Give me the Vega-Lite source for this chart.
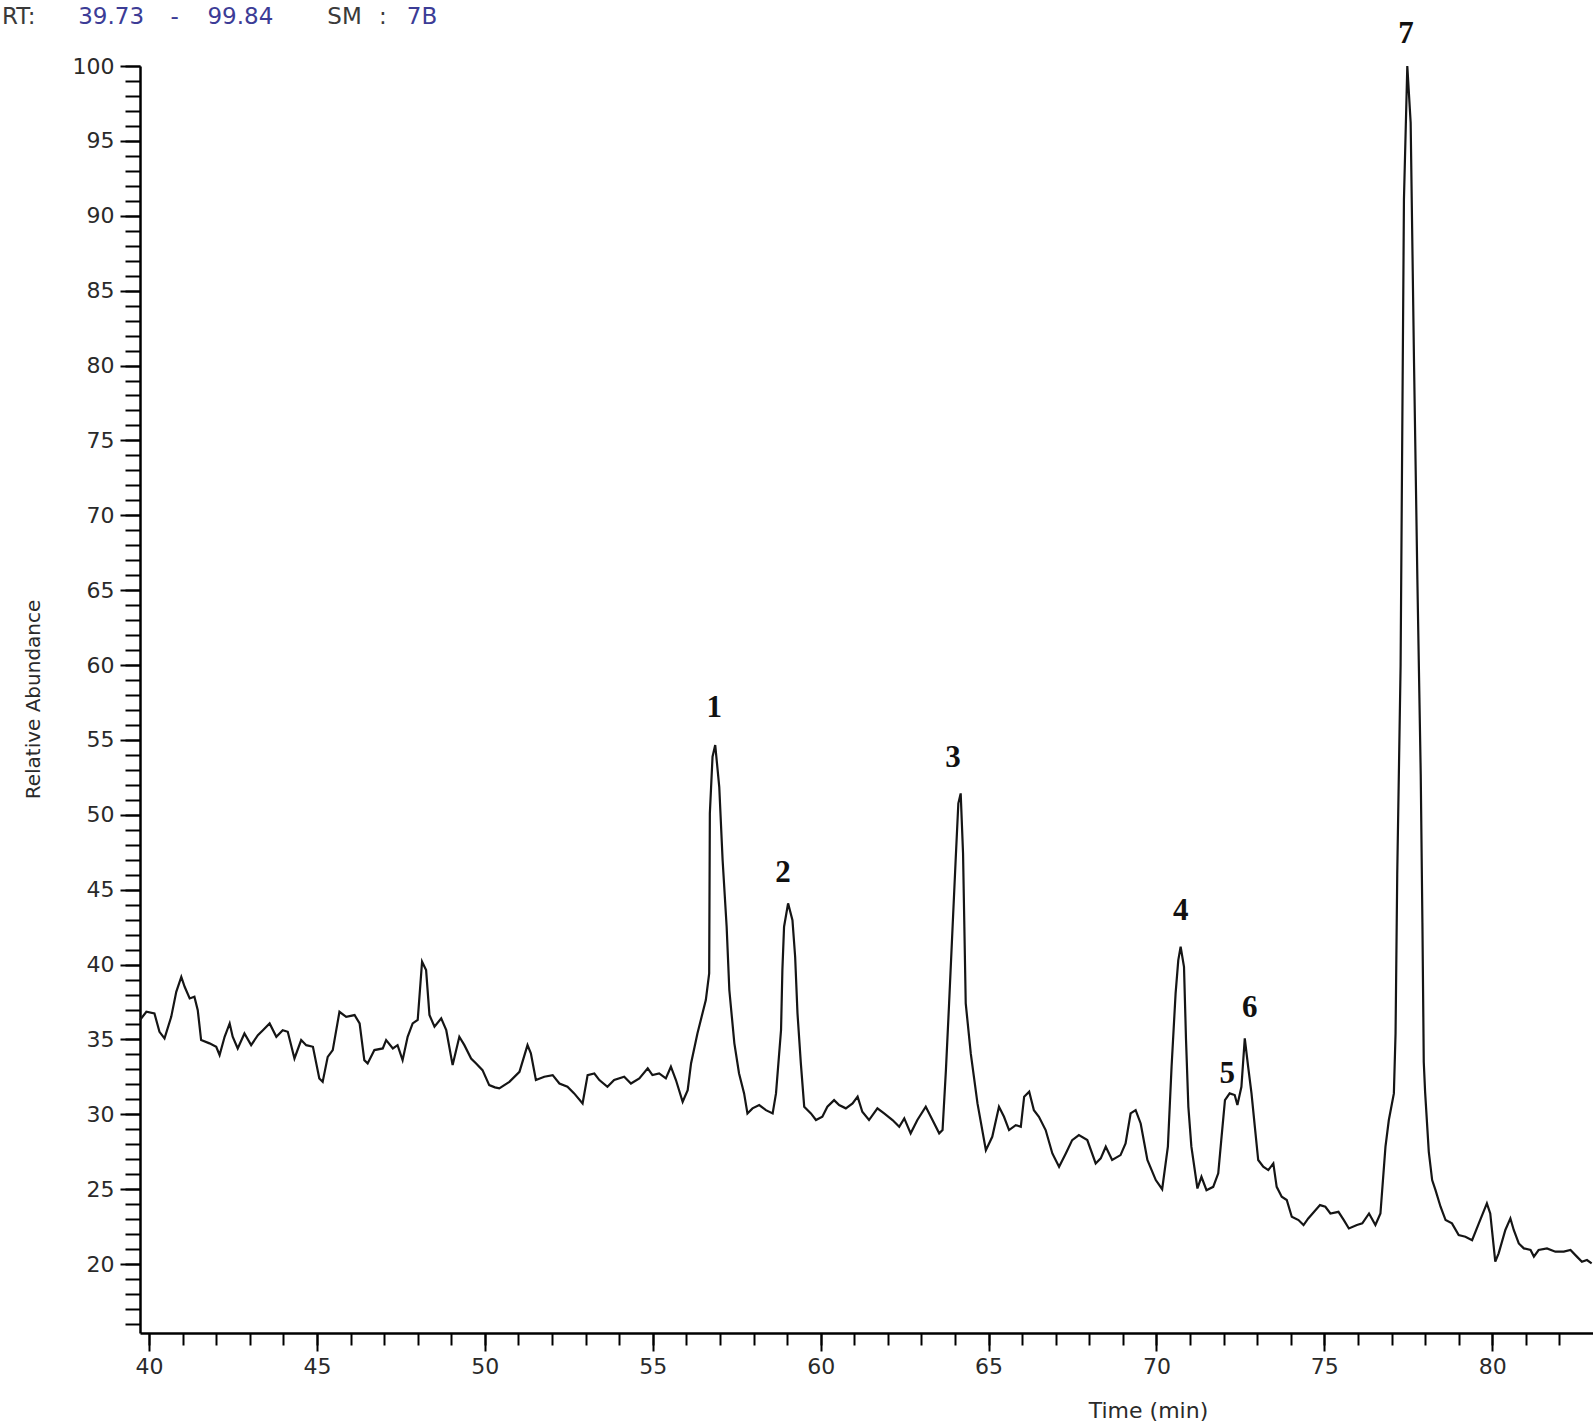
{
  "$schema": "https://vega.github.io/schema/vega-lite/v6.json",
  "autosize": {"type": "none"},
  "padding": {"left": 140, "top": 66, "right": 0, "bottom": 91},
  "width": 1453,
  "height": 1267,
  "background": "white",
  "config": {"view": {"stroke": null}},
  "datasets": {
    "trace": [
      {"t": 39.73, "a": 36.3}, {"t": 39.92, "a": 36.85}, {"t": 40.16, "a": 36.74}, {"t": 40.31, "a": 35.51}, {"t": 40.46, "a": 35.07},
      {"t": 40.66, "a": 36.51}, {"t": 40.81, "a": 38.18}, {"t": 40.96, "a": 39.18}, {"t": 41.06, "a": 38.52}, {"t": 41.21, "a": 37.74},
      {"t": 41.35, "a": 37.85}, {"t": 41.45, "a": 36.96}, {"t": 41.55, "a": 34.96}, {"t": 41.8, "a": 34.74}, {"t": 42.0, "a": 34.51},
      {"t": 42.1, "a": 33.96}, {"t": 42.25, "a": 35.18}, {"t": 42.4, "a": 36.07}, {"t": 42.49, "a": 35.18}, {"t": 42.64, "a": 34.4},
      {"t": 42.84, "a": 35.4}, {"t": 43.04, "a": 34.62}, {"t": 43.24, "a": 35.29}, {"t": 43.39, "a": 35.62}, {"t": 43.59, "a": 36.07},
      {"t": 43.79, "a": 35.18}, {"t": 43.98, "a": 35.62}, {"t": 44.13, "a": 35.51}, {"t": 44.33, "a": 33.73}, {"t": 44.53, "a": 34.96},
      {"t": 44.68, "a": 34.62}, {"t": 44.88, "a": 34.51}, {"t": 45.07, "a": 32.4}, {"t": 45.17, "a": 32.17}, {"t": 45.32, "a": 33.84},
      {"t": 45.47, "a": 34.29}, {"t": 45.67, "a": 36.85}, {"t": 45.87, "a": 36.51}, {"t": 46.12, "a": 36.63}, {"t": 46.27, "a": 36.07},
      {"t": 46.41, "a": 33.62}, {"t": 46.51, "a": 33.4}, {"t": 46.71, "a": 34.29}, {"t": 46.96, "a": 34.4}, {"t": 47.06, "a": 34.96},
      {"t": 47.26, "a": 34.4}, {"t": 47.4, "a": 34.62}, {"t": 47.55, "a": 33.62}, {"t": 47.7, "a": 35.18}, {"t": 47.85, "a": 36.07},
      {"t": 48.0, "a": 36.3}, {"t": 48.13, "a": 40.19}, {"t": 48.25, "a": 39.63}, {"t": 48.35, "a": 36.63}, {"t": 48.5, "a": 35.85},
      {"t": 48.7, "a": 36.41}, {"t": 48.85, "a": 35.62}, {"t": 49.04, "a": 33.29}, {"t": 49.24, "a": 35.18}, {"t": 49.39, "a": 34.62},
      {"t": 49.59, "a": 33.73}, {"t": 49.74, "a": 33.4}, {"t": 49.93, "a": 32.95}, {"t": 50.13, "a": 31.95}, {"t": 50.3, "a": 31.8},
      {"t": 50.43, "a": 31.73}, {"t": 50.73, "a": 32.17}, {"t": 51.03, "a": 32.84}, {"t": 51.27, "a": 34.62}, {"t": 51.37, "a": 34.07},
      {"t": 51.52, "a": 32.29}, {"t": 51.77, "a": 32.51}, {"t": 52.02, "a": 32.62}, {"t": 52.22, "a": 32.06}, {"t": 52.46, "a": 31.84},
      {"t": 52.66, "a": 31.4}, {"t": 52.91, "a": 30.73}, {"t": 53.06, "a": 32.62}, {"t": 53.26, "a": 32.73}, {"t": 53.41, "a": 32.29},
      {"t": 53.65, "a": 31.84}, {"t": 53.85, "a": 32.29}, {"t": 54.15, "a": 32.51}, {"t": 54.35, "a": 32.06}, {"t": 54.6, "a": 32.4},
      {"t": 54.85, "a": 33.07}, {"t": 54.99, "a": 32.62}, {"t": 55.19, "a": 32.73}, {"t": 55.39, "a": 32.4}, {"t": 55.54, "a": 33.18},
      {"t": 55.69, "a": 32.29}, {"t": 55.89, "a": 30.84}, {"t": 56.04, "a": 31.62}, {"t": 56.14, "a": 33.4}, {"t": 56.33, "a": 35.4},
      {"t": 56.58, "a": 37.63}, {"t": 56.68, "a": 39.41}, {"t": 56.7, "a": 50.1}, {"t": 56.78, "a": 53.88}, {"t": 56.86, "a": 54.66},
      {"t": 56.98, "a": 51.87}, {"t": 57.08, "a": 46.98}, {"t": 57.2, "a": 42.53}, {"t": 57.28, "a": 38.3}, {"t": 57.43, "a": 34.74},
      {"t": 57.57, "a": 32.73}, {"t": 57.72, "a": 31.4}, {"t": 57.82, "a": 30.06}, {"t": 57.97, "a": 30.4}, {"t": 58.17, "a": 30.62},
      {"t": 58.37, "a": 30.28}, {"t": 58.57, "a": 30.06}, {"t": 58.67, "a": 31.4}, {"t": 58.82, "a": 35.63}, {"t": 58.86, "a": 39.63},
      {"t": 58.91, "a": 42.53}, {"t": 59.03, "a": 44.09}, {"t": 59.16, "a": 42.97}, {"t": 59.24, "a": 40.52}, {"t": 59.31, "a": 36.74},
      {"t": 59.41, "a": 33.4}, {"t": 59.51, "a": 30.51}, {"t": 59.71, "a": 30.06}, {"t": 59.86, "a": 29.62}, {"t": 60.05, "a": 29.84},
      {"t": 60.2, "a": 30.51}, {"t": 60.4, "a": 30.95}, {"t": 60.55, "a": 30.62}, {"t": 60.75, "a": 30.4}, {"t": 60.95, "a": 30.73},
      {"t": 61.1, "a": 31.18}, {"t": 61.24, "a": 30.17}, {"t": 61.44, "a": 29.62}, {"t": 61.69, "a": 30.4}, {"t": 61.89, "a": 30.06},
      {"t": 62.14, "a": 29.62}, {"t": 62.34, "a": 29.17}, {"t": 62.49, "a": 29.73}, {"t": 62.68, "a": 28.73}, {"t": 62.88, "a": 29.62},
      {"t": 63.13, "a": 30.51}, {"t": 63.33, "a": 29.62}, {"t": 63.53, "a": 28.73}, {"t": 63.63, "a": 28.95}, {"t": 63.73, "a": 32.95},
      {"t": 63.82, "a": 37.18}, {"t": 63.92, "a": 42.09}, {"t": 64.02, "a": 46.98}, {"t": 64.1, "a": 50.77}, {"t": 64.17, "a": 51.43},
      {"t": 64.24, "a": 47.43}, {"t": 64.32, "a": 37.41}, {"t": 64.47, "a": 34.07}, {"t": 64.67, "a": 30.73}, {"t": 64.92, "a": 27.61},
      {"t": 65.11, "a": 28.5}, {"t": 65.31, "a": 30.51}, {"t": 65.46, "a": 29.84}, {"t": 65.61, "a": 28.95}, {"t": 65.81, "a": 29.28},
      {"t": 65.96, "a": 29.17}, {"t": 66.06, "a": 31.18}, {"t": 66.21, "a": 31.51}, {"t": 66.35, "a": 30.28}, {"t": 66.5, "a": 29.84},
      {"t": 66.7, "a": 28.95}, {"t": 66.9, "a": 27.39}, {"t": 67.1, "a": 26.5}, {"t": 67.3, "a": 27.39}, {"t": 67.49, "a": 28.28},
      {"t": 67.69, "a": 28.61}, {"t": 67.94, "a": 28.28}, {"t": 68.19, "a": 26.72}, {"t": 68.34, "a": 27.06}, {"t": 68.49, "a": 27.84},
      {"t": 68.68, "a": 26.95}, {"t": 68.93, "a": 27.28}, {"t": 69.08, "a": 28.06}, {"t": 69.23, "a": 30.06}, {"t": 69.38, "a": 30.28},
      {"t": 69.53, "a": 29.39}, {"t": 69.73, "a": 26.95}, {"t": 69.98, "a": 25.61}, {"t": 70.17, "a": 25.0}, {"t": 70.34, "a": 27.84},
      {"t": 70.45, "a": 33.18}, {"t": 70.57, "a": 38.08}, {"t": 70.65, "a": 40.3}, {"t": 70.72, "a": 41.19}, {"t": 70.82, "a": 39.85},
      {"t": 70.88, "a": 35.0}, {"t": 70.95, "a": 30.5}, {"t": 71.04, "a": 27.84}, {"t": 71.22, "a": 25.05}, {"t": 71.34, "a": 25.83},
      {"t": 71.49, "a": 24.94}, {"t": 71.69, "a": 25.16}, {"t": 71.84, "a": 26.06}, {"t": 71.93, "a": 28.28}, {"t": 72.04, "a": 30.95},
      {"t": 72.18, "a": 31.4}, {"t": 72.33, "a": 31.29}, {"t": 72.41, "a": 30.62}, {"t": 72.53, "a": 31.84}, {"t": 72.63, "a": 35.07},
      {"t": 72.73, "a": 33.18}, {"t": 72.83, "a": 31.4}, {"t": 72.93, "a": 29.17}, {"t": 73.03, "a": 26.95}, {"t": 73.18, "a": 26.5},
      {"t": 73.33, "a": 26.28}, {"t": 73.48, "a": 26.72}, {"t": 73.58, "a": 25.16}, {"t": 73.73, "a": 24.5}, {"t": 73.88, "a": 24.28},
      {"t": 74.03, "a": 23.16}, {"t": 74.23, "a": 22.94}, {"t": 74.38, "a": 22.61}, {"t": 74.52, "a": 23.05}, {"t": 74.87, "a": 23.94},
      {"t": 75.03, "a": 23.83}, {"t": 75.18, "a": 23.38}, {"t": 75.42, "a": 23.49}, {"t": 75.58, "a": 22.94}, {"t": 75.73, "a": 22.38},
      {"t": 75.97, "a": 22.61}, {"t": 76.13, "a": 22.72}, {"t": 76.33, "a": 23.38}, {"t": 76.52, "a": 22.61}, {"t": 76.67, "a": 23.38},
      {"t": 76.82, "a": 27.84}, {"t": 76.92, "a": 29.62}, {"t": 77.07, "a": 31.4}, {"t": 77.12, "a": 35.4}, {"t": 77.17, "a": 46.0},
      {"t": 77.27, "a": 59.9}, {"t": 77.37, "a": 91.1}, {"t": 77.47, "a": 100.0}, {"t": 77.57, "a": 96.2}, {"t": 77.67, "a": 80.2},
      {"t": 77.77, "a": 65.7}, {"t": 77.87, "a": 52.7}, {"t": 77.92, "a": 42.8}, {"t": 77.96, "a": 33.5}, {"t": 78.0, "a": 31.5},
      {"t": 78.11, "a": 27.5}, {"t": 78.21, "a": 25.61}, {"t": 78.31, "a": 24.94}, {"t": 78.46, "a": 23.83}, {"t": 78.61, "a": 22.94},
      {"t": 78.8, "a": 22.72}, {"t": 79.0, "a": 21.94}, {"t": 79.2, "a": 21.83}, {"t": 79.4, "a": 21.6}, {"t": 79.6, "a": 22.72},
      {"t": 79.84, "a": 24.05}, {"t": 79.94, "a": 23.38}, {"t": 80.09, "a": 20.16}, {"t": 80.19, "a": 20.72}, {"t": 80.39, "a": 22.28},
      {"t": 80.54, "a": 23.05}, {"t": 80.64, "a": 22.28}, {"t": 80.79, "a": 21.38}, {"t": 80.94, "a": 21.05}, {"t": 81.14, "a": 20.94},
      {"t": 81.24, "a": 20.5}, {"t": 81.38, "a": 20.94}, {"t": 81.63, "a": 21.05}, {"t": 81.88, "a": 20.83}, {"t": 82.13, "a": 20.83},
      {"t": 82.33, "a": 20.94}, {"t": 82.52, "a": 20.5}, {"t": 82.67, "a": 20.16}, {"t": 82.82, "a": 20.27}, {"t": 82.96, "a": 20.05}
    ],
    "peaks": [
      {"label": "1", "t": 56.83, "a": 56.55},
      {"label": "2", "t": 58.88, "a": 45.53},
      {"label": "3", "t": 63.94, "a": 53.21},
      {"label": "4", "t": 70.72, "a": 42.97},
      {"label": "5", "t": 72.11, "a": 32.07},
      {"label": "6", "t": 72.78, "a": 36.51},
      {"label": "7", "t": 77.43, "a": 101.56}
    ],
    "header": [
      {"text": "RT:", "t": 36.12, "a": 103.27, "kind": "key"},
      {"text": "39.73", "t": 38.87, "a": 103.27, "kind": "value"},
      {"text": "-", "t": 40.76, "a": 103.27, "kind": "value"},
      {"text": "99.84", "t": 42.72, "a": 103.27, "kind": "value"},
      {"text": "SM", "t": 45.82, "a": 103.27, "kind": "key"},
      {"text": ":", "t": 46.96, "a": 103.27, "kind": "key"},
      {"text": "7B", "t": 48.13, "a": 103.27, "kind": "value"}
    ]
  },
  "layer": [
    {
      "data": {"name": "trace"},
      "mark": {"type": "line", "color": "#151515", "strokeWidth": 2.2, "interpolate": "linear"},
      "encoding": {
        "x": {
          "field": "t", "type": "quantitative",
          "scale": {"domain": [39.73, 83], "nice": false, "zero": false},
          "axis": {
            "orient": "bottom",
            "values": [40, 45, 50, 55, 60, 65, 70, 75, 80],
            "grid": false,
            "domainColor": "#000", "domainWidth": 2.5,
            "tickColor": "#000", "tickWidth": 2, "tickSize": 18,
            "labelFont": "DejaVu Sans", "labelFontSize": 22, "labelColor": "#2a2a2a", "labelPadding": 5,
            "title": "Time (min)",
            "titleFont": "DejaVu Sans", "titleFontSize": 22, "titleFontWeight": "normal", "titleColor": "#2a2a2a",
            "titleX": 1008, "titleY": 77, "titleBaseline": "middle", "titleAlign": "center"
          }
        },
        "y": {
          "field": "a", "type": "quantitative",
          "scale": {"domain": [15.4, 100], "nice": false, "zero": false},
          "axis": {
            "orient": "left",
            "values": [20, 25, 30, 35, 40, 45, 50, 55, 60, 65, 70, 75, 80, 85, 90, 95, 100],
            "grid": false,
            "domainColor": "#000", "domainWidth": 2.5,
            "tickColor": "#000", "tickWidth": 2, "tickSize": 20,
            "labelFont": "DejaVu Sans", "labelFontSize": 22, "labelColor": "#2a2a2a", "labelPadding": 6,
            "title": "Relative Abundance",
            "titleFont": "DejaVu Sans", "titleFontSize": 20, "titleFontWeight": "normal", "titleColor": "#2a2a2a",
            "titleX": -107, "titleY": 633, "titleBaseline": "middle", "titleAlign": "center", "titleAngle": -90
          }
        }
      }
    },
    {
      "data": {"name": "peaks"},
      "mark": {"type": "text", "font": "Liberation Serif", "fontWeight": "bold", "fontSize": 31, "align": "center", "baseline": "alphabetic", "color": "#111"},
      "encoding": {
        "x": {
          "field": "t", "type": "quantitative",
          "scale": {"domain": [39.73, 83], "nice": false, "zero": false},
          "axis": {
            "orient": "bottom",
            "values": [40, 41, 42, 43, 44, 45, 46, 47, 48, 49, 50, 51, 52, 53, 54, 55, 56, 57, 58, 59, 60, 61, 62, 63, 64, 65, 66, 67, 68, 69, 70, 71, 72, 73, 74, 75, 76, 77, 78, 79, 80, 81, 82],
            "grid": false, "domain": false, "labels": false, "title": null,
            "tickColor": "#000", "tickWidth": 2, "tickSize": 12
          }
        },
        "y": {
          "field": "a", "type": "quantitative",
          "scale": {"domain": [15.4, 100], "nice": false, "zero": false},
          "axis": {
            "orient": "left",
            "values": [16, 17, 18, 19, 20, 21, 22, 23, 24, 25, 26, 27, 28, 29, 30, 31, 32, 33, 34, 35, 36, 37, 38, 39, 40, 41, 42, 43, 44, 45, 46, 47, 48, 49, 50, 51, 52, 53, 54, 55, 56, 57, 58, 59, 60, 61, 62, 63, 64, 65, 66, 67, 68, 69, 70, 71, 72, 73, 74, 75, 76, 77, 78, 79, 80, 81, 82, 83, 84, 85, 86, 87, 88, 89, 90, 91, 92, 93, 94, 95, 96, 97, 98, 99, 100],
            "grid": false, "domain": false, "labels": false, "title": null,
            "tickColor": "#000", "tickWidth": 2, "tickSize": 15
          }
        },
        "text": {"field": "label", "type": "nominal"}
      }
    },
    {
      "data": {"name": "header"},
      "mark": {"type": "text", "font": "DejaVu Sans", "fontSize": 23, "align": "center", "baseline": "middle"},
      "encoding": {
        "x": {"field": "t", "type": "quantitative", "scale": {"domain": [39.73, 83], "nice": false, "zero": false}, "axis": null},
        "y": {"field": "a", "type": "quantitative", "scale": {"domain": [15.4, 100], "nice": false, "zero": false}, "axis": null},
        "text": {"field": "text", "type": "nominal"},
        "color": {"field": "kind", "type": "nominal", "scale": {"domain": ["key", "value"], "range": ["#3a3a3a", "#3c3c96"]}, "legend": null}
      }
    }
  ],
  "resolve": {"axis": {"x": "independent", "y": "independent"}}
}
